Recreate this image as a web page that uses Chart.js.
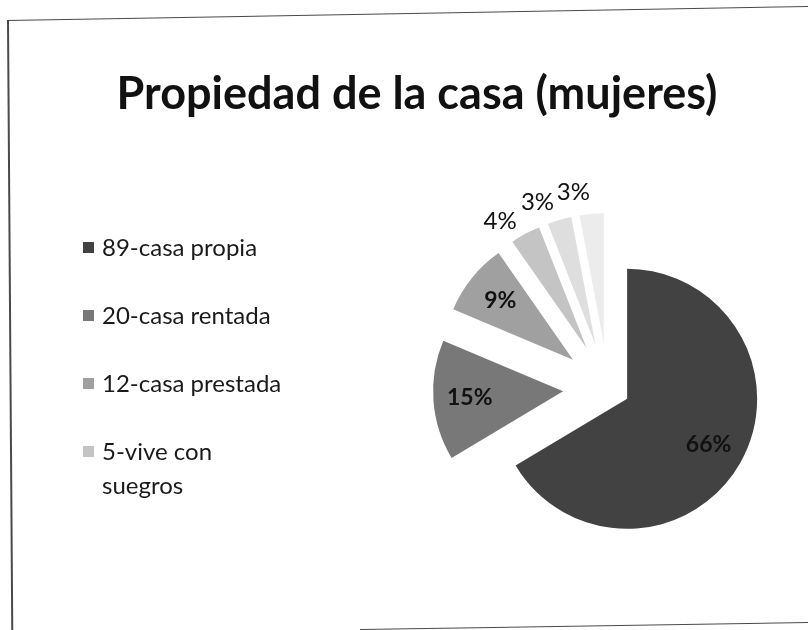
<!DOCTYPE html>
<html>
<head>
<meta charset="utf-8">
<script src="https://cdn.jsdelivr.net/npm/chart.js@4/dist/chart.umd.min.js"></script>
<style>
  html, body { margin: 0; padding: 0; background: #fff; }
  #wrap { position: relative; width: 808px; height: 630px; overflow: hidden; font-family: Lato, "Open Sans", sans-serif; }
  .line { position: absolute; background: #4a4a4a; transform-origin: 0 0; }
  #top { left: 7px; top: 20px; width: 820px; height: 1px; transform: rotate(-1deg); }
  #left { left: 7px; top: 20px; width: 1.5px; height: 620px; transform: rotate(-0.4deg); }
  #bottom { left: 360px; top: 629px; width: 460px; height: 1px; transform: rotate(-0.9deg); }
  #title { position: absolute; left: 0; width: 834px; top: 65px; text-align: center;
           font-size: 45px; font-weight: bold; color: #111; }
  #chart { position: absolute; left: 0; top: 0; }
  #legend { position: absolute; left: 83px; top: 230px; list-style: none; margin: 0; padding: 0; }
  #legend li { display: flex; align-items: flex-start; margin-bottom: 34px; font-size: 24px; color: #1a1a1a; line-height: 34px; }
  #legend .box { width: 11px; height: 11px; margin: 12px 8px 0 0; flex: none; }
  #legend .txt { max-width: 188px; }
</style>
</head>
<body>
<div id="wrap">
  <div class="line" id="top"></div>
  <div class="line" id="left"></div>
  <div class="line" id="bottom"></div>
  <canvas id="chart" width="808" height="630"></canvas>
  <div id="title">Propiedad de la casa (mujeres)</div>
  <ul id="legend"></ul>
</div>
<script>
document.addEventListener("DOMContentLoaded", function() {
    // values (last two slices are not in the legend)
    var labels = ['89-casa propia', '20-casa rentada', '12-casa prestada', '5-vive con suegros', '4-otros', '4-no contestó'];
    var values = [89, 20, 12, 5, 4, 4];
    var legendCount = 4;

    var grays = ['#424242', '#787878', '#a0a0a0', '#c4c4c4', '#dedede', '#ececec'];
    var explode = [22, 45, 45, 45, 45, 45];

    var total = values.reduce(function(a, b) { return a + b; }, 0);

    // slices pulled out of the pie, drawn with the library's own arcs
    var explodePlugin = {
        id: 'explode',
        beforeDatasetDraw: function(chart, args) {
            var ctx = chart.ctx;
            args.meta.data.forEach(function(arc, i) {
                var mid = (arc.startAngle + arc.endAngle) / 2;
                ctx.save();
                ctx.translate(Math.cos(mid) * explode[i], Math.sin(mid) * explode[i]);
                arc.draw(ctx);
                ctx.restore();
            });
            return false;
        }
    };

    // percent labels, inside for big slices, outside for small ones
    var percentPlugin = {
        id: 'percent',
        afterDatasetsDraw: function(chart) {
            var ctx = chart.ctx;
            var meta = chart.getDatasetMeta(0);
            ctx.save();
            ctx.textAlign = 'center';
            ctx.textBaseline = 'middle';
            ctx.fillStyle = '#111';
            meta.data.forEach(function(arc, i) {
                var pct = Math.round(values[i] / total * 100);
                var mid = (arc.startAngle + arc.endAngle) / 2;
                var cx = arc.x + Math.cos(mid) * explode[i];
                var cy = arc.y + Math.sin(mid) * explode[i];
                var r = arc.outerRadius;
                var x, y;
                if (pct >= 5) {
                    ctx.font = 'bold 23px Lato, sans-serif';
                    x = cx + Math.cos(mid) * r * 0.72;
                    y = cy + Math.sin(mid) * r * 0.72;
                } else {
                    ctx.font = '24px Lato, sans-serif';
                    var a = mid - 6 * Math.PI / 180;
                    x = cx + Math.cos(a) * (r + 24);
                    y = cy + Math.sin(a) * (r + 24);
                }
                ctx.fillText(pct + '%', x, y);
            });
            ctx.restore();
        }
    };

    var ctx1 = document.getElementById('chart').getContext('2d');
    var houseChart = new Chart(ctx1, {
        type: 'pie',
        data: {
            labels: labels,
            datasets: [{
                data: values,
                backgroundColor: grays,
                borderWidth: 0,
                radius: 130
            }]
        },
        options: {
            responsive: false,
            animation: false,
            layout: { padding: { left: 408, top: 146, right: 0, bottom: 0 } },
            plugins: {
                legend: { display: false },
                tooltip: { enabled: false }
            }
        },
        plugins: [explodePlugin, percentPlugin]
    });

    // legend on the left, first four entries only
    var ul = document.getElementById('legend');
    for (var i = 0; i < legendCount; i++) {
        var li = document.createElement('li');
        li.innerHTML = '<span class="box" style="background:' + grays[i] + '"></span><span class="txt">' + labels[i] + '</span>';
        ul.appendChild(li);
    }
});
</script>
</body>
</html>
